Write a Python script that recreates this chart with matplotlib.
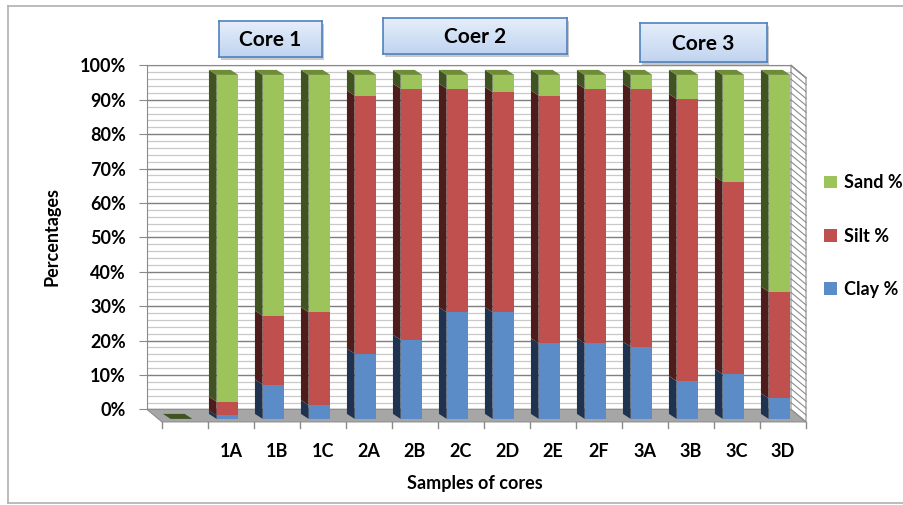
import numpy as np
import matplotlib
matplotlib.use("Agg")
import matplotlib.pyplot as plt
from matplotlib.patches import Polygon, Rectangle
from matplotlib.colors import LinearSegmentedColormap
from matplotlib.lines import Line2D

# grain-size fractions per sample (first slot is an empty category)
samples = ["", "1A", "1B", "1C", "2A", "2B", "2C", "2D", "2E", "2F", "3A", "3B", "3C", "3D"]
clay = [0, 1, 10, 4, 19, 23, 31, 31, 22, 22, 21, 11, 13, 6]
silt = [0, 4, 20, 27, 75, 73, 65, 64, 72, 74, 75, 82, 56, 31]
sand = [0, 95, 70, 69, 6, 4, 4, 5, 6, 4, 4, 7, 31, 63]
series_names = ["Clay %", "Silt %", "Sand %"]
core_labels = ["Core 1", "Coer 2", "Core 3"]

# front / side / top shades for the fake 3-D columns
front = ["#5b8cc8", "#c0504d", "#9dc35b"]
side = ["#1f3350", "#4f1c1c", "#405422"]
topc = ["#3a6396", "#953735", "#6e8b35"]

plt.rcParams["font.family"] = ["Lato", "DejaVu Sans"]
plt.rcParams["font.weight"] = "bold"

W, H = 904, 505
fig = plt.figure(figsize=(W / 100, H / 100), dpi=100)

# back wall of the chart, in pixels
left, right, top, bottom = 147, 791, 65.4, 409.4
ax = fig.add_axes([left / W, 1 - bottom / H, (right - left) / W, (bottom - top) / H])
n = len(samples)
ax.set_xlim(-0.5, n - 0.5)
ax.set_ylim(0, 100)
px_x = (right - left) / n
px_y = (bottom - top) / 100


def shift(px, py):
    # pixel offset (py measured downwards) -> data offset
    return px / px_x, -py / px_y


grey = "#8a8a8a"
ax.set_yticks(np.arange(0, 101, 10))
ax.set_yticklabels([f"{v}%" for v in range(0, 101, 10)])
ax.set_yticks(np.arange(0, 101, 2), minor=True)
ax.grid(True, which="major", axis="y", color="#7f7f7f", lw=1.0, zorder=0)
ax.grid(True, which="minor", axis="y", color="#c9c9c9", lw=0.9, zorder=0)
ax.tick_params(axis="y", which="major", length=6, color=grey, pad=9, labelsize=13)
ax.tick_params(axis="y", which="minor", length=0)
for s in ("right", "bottom"):
    ax.spines[s].set_visible(False)
ax.spines["left"].set_color(grey)
ax.spines["top"].set_color(grey)
ax.set_axisbelow(True)

# floor and right-hand side wall
fdx, fdy = shift(15, 12.5)
x0, x1 = -0.5, n - 0.5
ax.add_patch(Polygon([(x0, 0), (x1, 0), (x1 + fdx, fdy), (x0 + fdx, fdy)],
                     closed=True, fc="#a6a6a6", ec="#8c8c8c", lw=0.8,
                     clip_on=False, zorder=2))
ax.add_patch(Polygon([(x1, 0), (x1, 100), (x1 + fdx, 100 + fdy), (x1 + fdx, fdy)],
                     closed=True, fc="white", ec=grey, lw=0.8,
                     clip_on=False, zorder=1))
for p in range(2, 101, 2):
    ax.plot([x1, x1 + fdx], [p, p + fdy], color="#8c8c8c", lw=0.8,
            clip_on=False, zorder=1)

# category ticks along the front edge of the floor
tdx, tdy = shift(0, 6)
for k in range(n + 1):
    xb = k - 0.5 + fdx
    ax.plot([xb, xb], [fdy, fdy + tdy], color=grey, lw=1.0, clip_on=False, zorder=2)
ax.set_xticks(np.arange(n) + fdx)
ax.set_xticklabels(samples)
ax.tick_params(axis="x", length=0, pad=24, labelsize=13)

# columns: front faces via bar, side and top faces as polygons
fox, foy = shift(11.5, 9.5)
bdx, bdy = shift(7.7, -5)
w = 21.7 / px_x
xs = np.arange(n) + fox
data = [np.array(clay), np.array(silt), np.array(sand)]
base = np.zeros(n)
handles = []
for vals, fc, sc, name in zip(data, front, side, series_names):
    bars = ax.bar(xs, vals, width=w, bottom=base + foy, color=fc, lw=0,
                  clip_on=False, zorder=3, label=name)
    handles.append(bars)
    for i in range(n):
        if vals[i] <= 0:
            continue
        xl = xs[i] - w / 2
        y0, y1 = base[i] + foy, base[i] + vals[i] + foy
        ax.add_patch(Polygon([(xl, y0), (xl, y1), (xl - bdx, y1 + bdy), (xl - bdx, y0 + bdy)],
                             closed=True, fc=sc, ec="none", clip_on=False, zorder=3))
    base = base + vals

# lids on top of each column (the empty category only shows its lid)
for i in range(n):
    xl, xr = xs[i] - w / 2, xs[i] + w / 2
    yt = base[i] + foy
    lid = topc[2] if base[i] > 0 else side[2]
    ax.add_patch(Polygon([(xl, yt), (xr, yt), (xr - bdx, yt + bdy), (xl - bdx, yt + bdy)],
                         closed=True, fc=lid, ec="none", clip_on=False, zorder=4))

ax.plot([x1, x1 + fdx], [100, 100 + fdy], color=grey, lw=0.9, clip_on=False, zorder=1)

fig.legend(handles=handles[::-1], labels=series_names[::-1], loc="center left",
           bbox_to_anchor=(808 / W, 1 - 236 / H), frameon=False, fontsize=13,
           handlelength=0.7, handleheight=0.7, handletextpad=0.4, labelspacing=2.0)

fig.text(52 / W, 1 - 237 / H, "Percentages", rotation=90, ha="center", va="center",
         fontsize=13)
fig.text(475 / W, 1 - 484 / H, "Samples of cores", ha="center", va="center",
         fontsize=13)

# core header boxes with a soft blue gradient and a small drop shadow
box_px = [(219, 21, 322, 57), (383, 18, 567, 54), (640, 23, 767, 62)]
cmap = LinearSegmentedColormap.from_list("hdr", ["#e6eefa", "#c0d4f0"])
grad = np.linspace(0, 1, 64).reshape(-1, 1)
for (bx0, by0, bx1, by1), label in zip(box_px, core_labels):
    fig.patches.append(Rectangle(((bx0 + 2) / W, 1 - (by1 + 3) / H), (bx1 - bx0) / W,
                                 (by1 - by0) / H, transform=fig.transFigure,
                                 fc="#c8c8c8", ec="none", zorder=-1))
    bax = fig.add_axes([bx0 / W, 1 - by1 / H, (bx1 - bx0) / W, (by1 - by0) / H])
    bax.set_zorder(3)
    bax.imshow(grad, cmap=cmap, aspect="auto", extent=(0, 1, 0, 1))
    bax.set_xticks([])
    bax.set_yticks([])
    for sp in bax.spines.values():
        sp.set_color("#4f81bd")
        sp.set_linewidth(1.2)
    bax.text(0.5, 0.47, label, ha="center", va="center", fontsize=15,
             transform=bax.transAxes)

# outer frame of the chart area
for xs_, ys_ in (([8, 8], [6, 503]), ([8, W], [6, 6]), ([8, W], [503, 503])):
    fig.add_artist(Line2D([v / W for v in xs_], [1 - v / H for v in ys_],
                          color="#b0b0b0", lw=1.2))

fig.savefig("out.png", dpi=100)
